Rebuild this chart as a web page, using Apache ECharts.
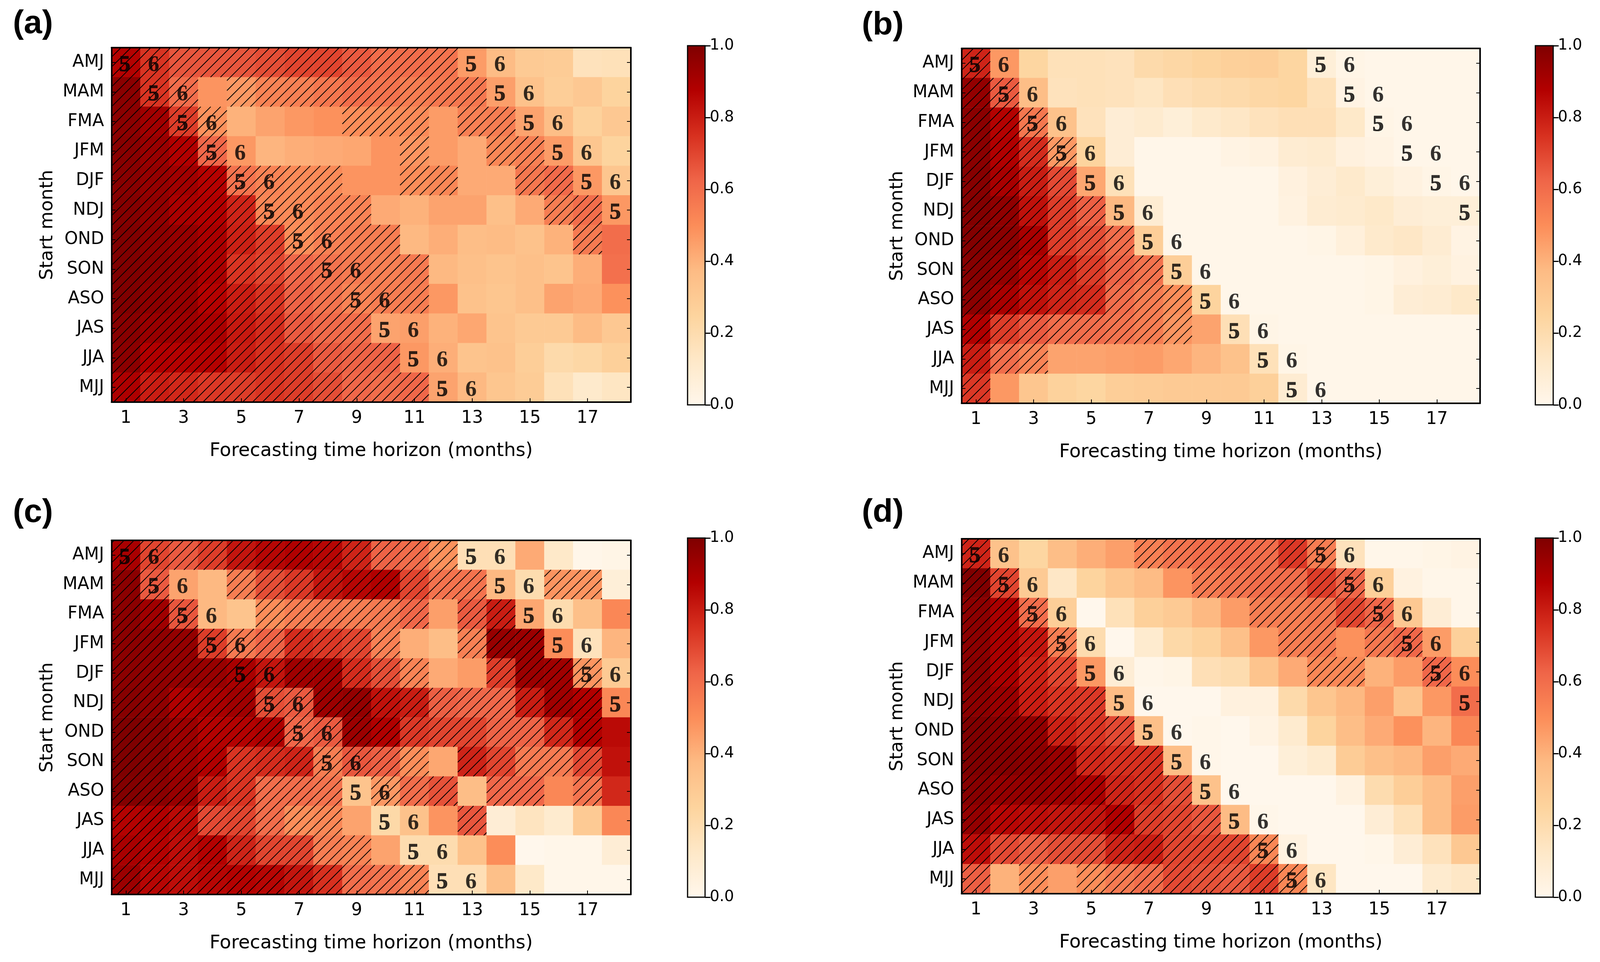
<!DOCTYPE html>
<html>
<head>
<meta charset="utf-8">
<style>html,body{margin:0;padding:0;background:#fff;overflow:hidden}#chart{width:100vw;height:100vh}</style>
<script src="https://cdn.jsdelivr.net/npm/echarts@6/dist/echarts.min.js"></script>
</head>
<body>
<div id="chart"></div>
<script>
const startMonths = ['AMJ','MAM','FMA','JFM','DJF','NDJ','OND','SON','ASO','JAS','JJA','MJJ'];
const horizons = ['1','2','3','4','5','6','7','8','9','10','11','12','13','14','15','16','17','18'];
const orRd = ['#fff7ec','#fee8c8','#fdd49e','#fdbb84','#fc8d59','#ef6548','#d7301f','#b30000','#7f0000'];

const valuesA = [
[.87,.74,.66,.66,.66,.68,.70,.70,.65,.60,.60,.58,.46,.37,.30,.29,.16,.17],
[.97,.74,.60,.48,.47,.53,.54,.57,.60,.58,.55,.57,.57,.45,.34,.28,.31,.25],
[.97,.92,.72,.49,.40,.44,.47,.49,.50,.50,.51,.46,.54,.55,.44,.36,.26,.31],
[.98,.94,.88,.62,.47,.39,.41,.42,.43,.48,.48,.46,.42,.52,.54,.46,.32,.25],
[.98,.95,.92,.87,.58,.53,.51,.51,.48,.48,.50,.52,.42,.42,.57,.61,.47,.32],
[.99,.96,.90,.88,.78,.52,.51,.53,.53,.42,.40,.44,.44,.35,.42,.55,.60,.47],
[1.0,.97,.95,.90,.79,.72,.50,.54,.55,.55,.38,.41,.36,.37,.34,.40,.56,.60],
[1.0,.98,.96,.90,.74,.70,.62,.58,.56,.54,.56,.38,.35,.33,.35,.33,.41,.59],
[1.0,.97,.95,.87,.80,.74,.63,.58,.53,.55,.55,.47,.34,.32,.35,.44,.42,.49],
[.98,.94,.93,.90,.81,.76,.65,.61,.60,.44,.45,.40,.43,.33,.30,.30,.37,.31],
[.97,.88,.87,.87,.80,.75,.72,.65,.63,.63,.47,.41,.33,.34,.28,.21,.23,.27],
[.89,.80,.77,.73,.72,.74,.72,.68,.62,.60,.62,.44,.38,.32,.29,.17,.11,.14]];
const hatchA = [
'111111111111000000','111011111111100000','111100001110110000','111100000010011000',
'111111110011001100','111111111000000110','111111111100000010','111111111110000000',
'111111111110000000','111111111000000000','111111111100000000','111111111110000000'];

const valuesB = [
[.78,.47,.24,.17,.17,.16,.21,.23,.25,.27,.28,.24,.07,.02,.01,.01,.01,.01],
[.95,.65,.36,.16,.17,.16,.14,.18,.20,.21,.23,.24,.17,.03,.01,.01,.01,.01],
[.97,.87,.57,.34,.16,.08,.10,.07,.11,.13,.16,.18,.18,.12,.02,.01,.01,.01],
[.97,.88,.76,.47,.25,.08,.01,.01,.01,.03,.04,.09,.10,.05,.03,.01,.01,.01],
[.98,.90,.80,.69,.43,.17,.01,.01,.01,.01,.01,.05,.08,.11,.07,.04,.02,.01],
[.99,.96,.83,.72,.64,.38,.09,.01,.01,.01,.01,.04,.09,.10,.12,.08,.07,.07],
[.99,.97,.90,.72,.68,.60,.28,.01,.01,.01,.01,.01,.02,.06,.11,.13,.09,.03],
[.98,.95,.86,.80,.72,.63,.58,.28,.01,.01,.01,.01,.01,.01,.02,.05,.07,.04],
[.97,.90,.83,.78,.76,.60,.55,.50,.25,.01,.01,.01,.01,.01,.02,.08,.09,.12],
[.88,.72,.65,.60,.60,.58,.55,.48,.44,.18,.02,.01,.01,.01,.01,.01,.01,.01],
[.80,.60,.53,.44,.44,.45,.46,.43,.39,.34,.17,.02,.01,.01,.01,.01,.01,.01],
[.73,.47,.32,.26,.24,.28,.29,.30,.30,.30,.27,.09,.01,.01,.01,.01,.01,.01]];
const hatchB = [
'100000000000000000','110000000000000000','111000000000000000','111100000000000000',
'111100000000000000','111110000000000000','111111000000000000','111111100000000000',
'111111110000000000','111111110000000000','111000000000000000','100000000000000000'];

const valuesC = [
[.90,.70,.65,.72,.82,.86,.88,.86,.78,.63,.60,.49,.18,.18,.42,.12,.01,.02],
[.97,.65,.44,.38,.55,.68,.73,.82,.86,.88,.70,.58,.58,.38,.20,.48,.48,.07],
[.97,.92,.66,.38,.33,.50,.55,.57,.55,.56,.62,.45,.65,.80,.43,.20,.35,.52],
[.97,.96,.95,.72,.56,.63,.76,.73,.70,.54,.41,.36,.54,.94,.93,.50,.16,.39],
[.97,.96,.95,.94,.90,.82,.92,.92,.76,.68,.53,.42,.46,.72,.93,.92,.48,.30],
[.98,.96,.88,.90,.92,.68,.65,.93,.95,.83,.80,.64,.62,.62,.80,.92,.88,.52],
[1.0,.98,.93,.87,.87,.89,.62,.65,.93,.88,.73,.70,.70,.63,.63,.77,.88,.85],
[1.0,.98,.93,.88,.74,.76,.78,.55,.66,.64,.50,.43,.78,.70,.56,.56,.69,.83],
[.99,.97,.94,.80,.74,.60,.60,.58,.33,.47,.60,.67,.36,.62,.62,.52,.58,.77],
[.87,.88,.85,.69,.70,.60,.50,.52,.44,.22,.34,.48,.66,.08,.15,.10,.30,.52],
[.90,.87,.84,.87,.78,.70,.70,.55,.53,.44,.20,.20,.34,.50,.00,.01,.01,.08],
[.93,.86,.84,.86,.87,.86,.82,.75,.60,.58,.53,.18,.18,.35,.12,.01,.01,.01]];
const hatchC = [
'111111111111000000','110011111111100110','111001111110110000','111111111100111000',
'111111111110011110','111111111111111110','111111111111111110','111111111110111110',
'111111110111011010','111111110000100000','111111111000000000','111111111110000000'];

const valuesD = [
[.78,.34,.24,.36,.41,.45,.54,.58,.60,.62,.60,.73,.55,.16,.01,.01,.02,.03],
[1.0,.70,.30,.13,.25,.32,.37,.48,.56,.58,.60,.60,.72,.62,.27,.04,.01,.01],
[.97,.90,.60,.28,.00,.17,.27,.30,.38,.46,.55,.55,.57,.70,.62,.31,.08,.01],
[.97,.90,.82,.55,.20,.00,.10,.22,.26,.35,.47,.55,.56,.49,.57,.62,.46,.27],
[.98,.90,.79,.70,.47,.08,.01,.02,.18,.20,.33,.42,.52,.52,.40,.46,.62,.50],
[.97,.94,.80,.74,.73,.37,.00,.00,.00,.05,.05,.21,.32,.38,.45,.33,.47,.60],
[1.0,.98,.96,.79,.74,.69,.35,.00,.01,.00,.03,.10,.25,.36,.42,.49,.39,.52],
[1.0,.99,.97,.94,.77,.75,.75,.36,.01,.00,.00,.07,.10,.29,.35,.38,.45,.42],
[.98,.95,.95,.93,.90,.78,.75,.68,.34,.00,.00,.00,.00,.04,.20,.28,.36,.45],
[.95,.86,.84,.82,.82,.88,.72,.70,.66,.37,.01,.00,.00,.00,.08,.17,.36,.46],
[.84,.69,.64,.68,.68,.78,.80,.70,.70,.70,.52,.04,.00,.00,.01,.08,.16,.31],
[.64,.40,.50,.45,.50,.56,.60,.69,.67,.65,.72,.52,.14,.00,.00,.00,.10,.13]];
const hatchD = [
'100000111111100000','110000001111110000','111000000011111000','111100000001101100',
'111100000000110010','111110000000000000','111111000000000000','111111100000000000',
'111111110000000000','111111111000000000','111111111110000000','101011111111000000'];

const fiveCells = [[0,0],[1,1],[2,2],[3,3],[4,4],[5,5],[6,6],[7,7],[8,8],[9,9],[10,10],[11,11],
                   [12,0],[13,1],[14,2],[15,3],[16,4],[17,5]];
const sixCells  = [[1,0],[2,1],[3,2],[4,3],[5,4],[6,5],[7,6],[8,7],[9,8],[10,9],[11,10],[12,11],
                   [13,0],[14,1],[15,2],[16,3],[17,4]];

const panels = [
 {tag:'(a)', values:valuesA, hatch:hatchA, plot:[293,122,1365,908],  bar:[1807,117,46,920],  title:[34,20]},
 {tag:'(b)', values:valuesB, hatch:hatchB, plot:[2527,124,1363,909], bar:[4035,117,47,920],  title:[2265,24]},
 {tag:'(c)', values:valuesC, hatch:hatchC, plot:[293,1384,1365,907], bar:[1807,1378,46,920], title:[34,1272]},
 {tag:'(d)', values:valuesD, hatch:hatchD, plot:[2527,1380,1363,909],bar:[4035,1378,47,920], title:[2265,1272]}
];

// The window may be narrower than the reference: keep the layout proportional to it.
const sx = Math.min(1, window.innerWidth / 4205);
const sans = 'DejaVu Sans';
const hatchStep = 25.4;
const frame = {show:true, onZero:false, lineStyle:{color:'#000', width:4}};
const tick = {show:true, inside:true, length:10, alignWithLabel:true, lineStyle:{color:'#000', width:2}};

const grid = [], xAxis = [], yAxis = [], series = [], title = [];

panels.forEach((p) => {
  const g = grid.length;
  grid.push({left:p.plot[0]*sx, top:p.plot[1], width:p.plot[2]*sx, height:p.plot[3]});
  const xi = xAxis.length, yi = yAxis.length;
  xAxis.push({gridIndex:g, type:'category', data:horizons, position:'bottom', z:10,
    axisLine:frame, axisTick:{...tick, interval:1}, splitLine:{show:false},
    axisLabel:{interval:1, fontFamily:sans, fontSize:44, color:'#000', margin:20},
    name:'Forecasting time horizon (months)', nameLocation:'middle', nameGap:102,
    nameTextStyle:{fontFamily:sans, fontSize:48, color:'#000'}});
  xAxis.push({gridIndex:g, type:'category', data:horizons, position:'top', z:10,
    axisLine:frame, axisTick:{show:false}, axisLabel:{show:false}, splitLine:{show:false}});
  yAxis.push({gridIndex:g, type:'category', data:startMonths, inverse:true, position:'left', z:10,
    axisLine:frame, axisTick:tick, splitLine:{show:false},
    axisLabel:{interval:0, fontFamily:sans, fontSize:44, color:'#000', margin:19},
    name:'Start month', nameLocation:'middle', nameGap:140, nameRotate:90,
    nameTextStyle:{fontFamily:sans, fontSize:47, color:'#000'}});
  yAxis.push({gridIndex:g, type:'category', data:startMonths, inverse:true, position:'right', z:10,
    axisLine:frame, axisTick:tick, axisLabel:{show:false}, splitLine:{show:false}});

  const cells = [];
  p.values.forEach((row, r) => row.forEach((v, c) => cells.push([c, r, v])));
  series.push({type:'heatmap', xAxisIndex:xi, yAxisIndex:yi, data:cells, z:2, silent:true,
    itemStyle:{borderWidth:0}, emphasis:{disabled:true}, progressive:0, animation:false});

  title.push({text:p.tag, left:p.title[0]*sx, top:p.title[1], padding:0,
    textStyle:{fontFamily:'Liberation Sans', fontSize:84, fontWeight:'bold', color:'#000'}});
});

panels.forEach((p, i) => {
  const xi = i*2, yi = i*2;
  const hatched = [];
  p.hatch.forEach((s, r) => { for (let c = 0; c < 18; c++) if (s[c] === '1') hatched.push([c, r]); });
  series.push({type:'custom', xAxisIndex:xi, yAxisIndex:yi, data:hatched, z:3, silent:true,
    encode:{x:0, y:1},
    renderItem(params, api) {
      const c = api.coord([api.value(0), api.value(1)]);
      const s = api.size([1, 1]);
      const x0 = c[0]-s[0]/2, x1 = c[0]+s[0]/2, y0 = c[1]-s[1]/2, y1 = c[1]+s[1]/2;
      const children = [];
      for (let k = Math.ceil((x0+y0)/hatchStep); k*hatchStep <= x1+y1; k++) {
        const q = k*hatchStep;
        const xa = Math.max(x0, q-y1), xb = Math.min(x1, q-y0);
        if (xb > xa) children.push({type:'line', shape:{x1:xa, y1:q-xa, x2:xb, y2:q-xb},
          style:{stroke:'#000', lineWidth:2}});
      }
      return {type:'group', children};
    }});
  [[fiveCells,'5',1.2],[sixCells,'6',0]].forEach(([pts, txt, border]) => {
    series.push({type:'scatter', xAxisIndex:xi, yAxisIndex:yi, data:pts, z:4, silent:true,
      symbolSize:1, itemStyle:{color:'transparent'},
      label:{show:true, position:'inside', formatter:txt, offset:[-3,7],
        fontFamily:'Liberation Serif', fontWeight:'bold', fontSize:58, color:'#000',
        textBorderColor:'#000', textBorderWidth:border}});
  });
});

panels.forEach((p) => {
  const g = grid.length;
  grid.push({left:p.bar[0]*sx, top:p.bar[1], width:p.bar[2]*sx, height:p.bar[3]});
  const xi = xAxis.length, yi = yAxis.length;
  xAxis.push({gridIndex:g, type:'category', data:[''], show:false});
  yAxis.push({gridIndex:g, type:'value', min:0, max:1, interval:0.2, position:'right', z:10,
    axisLine:{show:false}, splitLine:{show:false},
    axisTick:{show:true, length:14, lineStyle:{color:'#000', width:3}},
    axisLabel:{fontFamily:sans, fontSize:39, color:'#000', margin:12, formatter:v => v.toFixed(1)}});
  series.push({type:'custom', xAxisIndex:xi, yAxisIndex:yi, data:[[0,0,1]], z:3, silent:true,
    encode:{x:0, y:[1,2]},
    renderItem(params, api) {
      const a = api.coord([0, api.value(1)]), b = api.coord([0, api.value(2)]);
      const w = api.size([1, 0])[0];
      return {type:'rect', shape:{x:a[0]-w/2, y:b[1], width:w, height:a[1]-b[1]},
        style:{stroke:'#000', lineWidth:3, fill:{type:'linear', x:0, y:1, x2:0, y2:0,
          colorStops:orRd.map((color, n) => ({offset:n/(orRd.length-1), color}))}}};
    }});
});

const chart = echarts.init(document.getElementById('chart'), null, {renderer:'canvas'});
chart.setOption({
  animation:false, backgroundColor:'#fff', title, grid, xAxis, yAxis, series,
  visualMap:{show:false, min:0, max:1, seriesIndex:[0,1,2,3], inRange:{color:orRd}}
});
</script>
</body>
</html>
